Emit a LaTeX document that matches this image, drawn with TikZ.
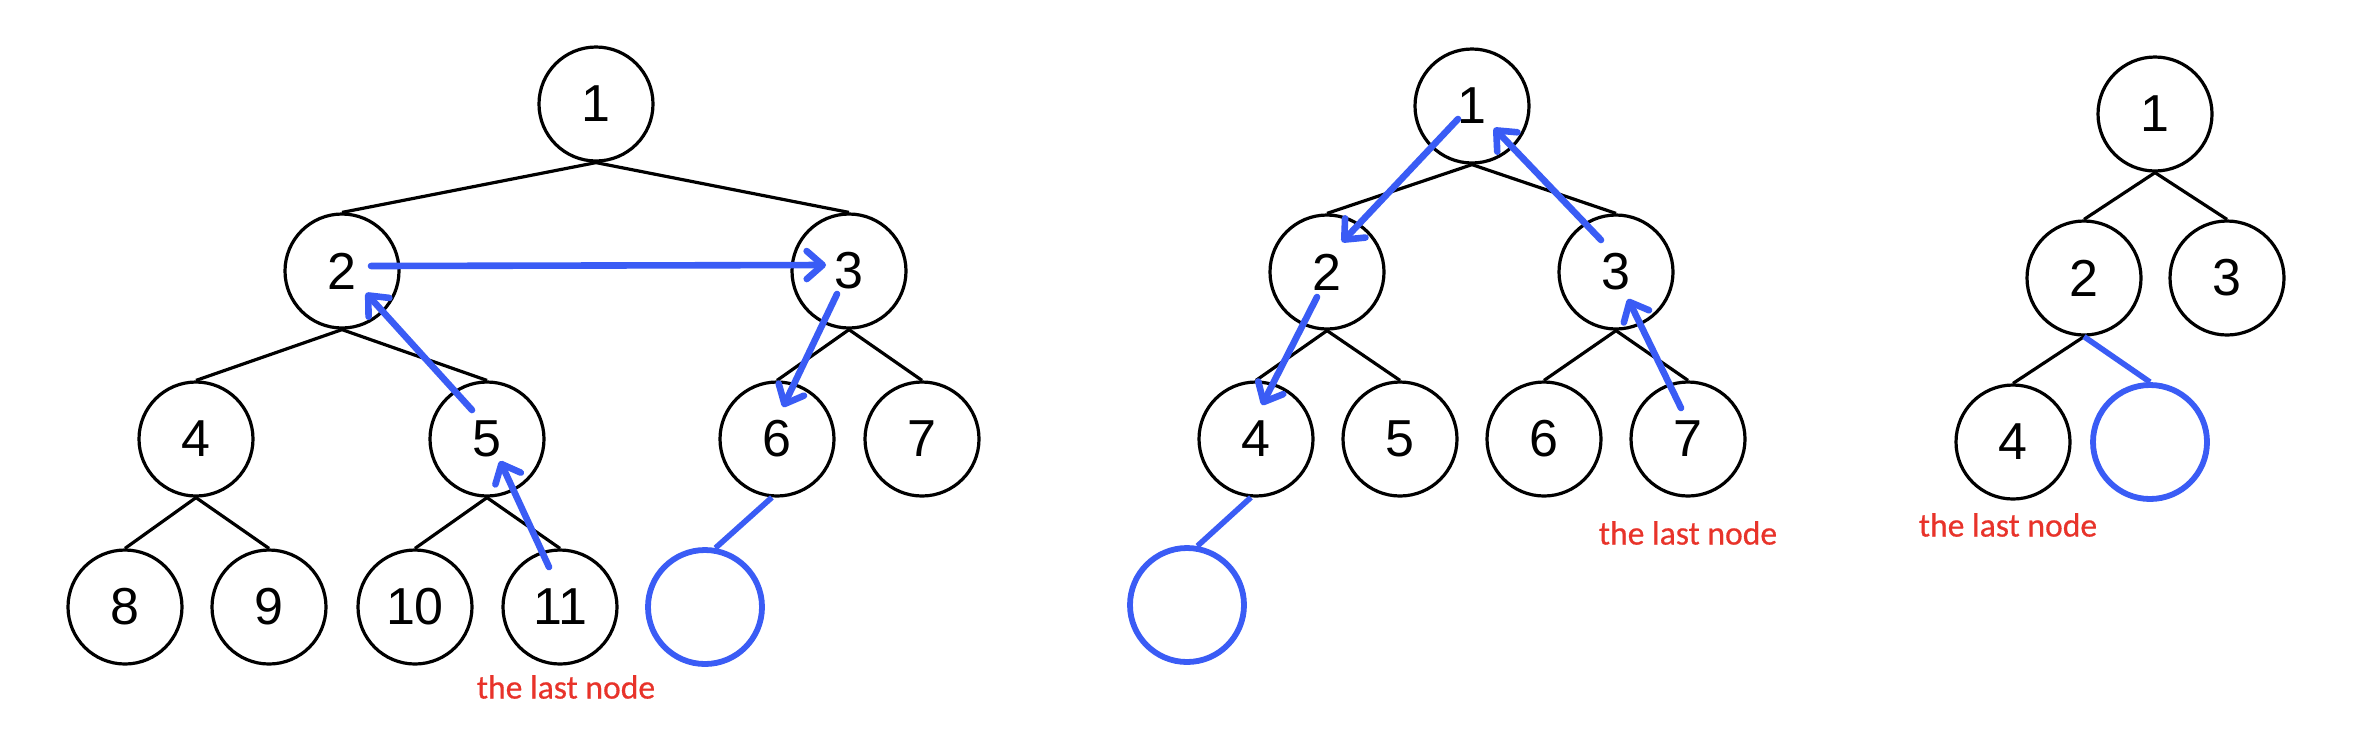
\documentclass[tikz,border=0pt]{standalone}
\usepackage{fontspec}
\setmainfont{Liberation Sans}
\newfontfamily\lastfont[FakeBold=0.5]{Carlito}
\usetikzlibrary{arrows.meta}
\definecolor{hblue}{RGB}{58,92,245}
\definecolor{hred}{RGB}{232,51,42}
\begin{document}
\begin{tikzpicture}[x=0.5pt,y=-0.5pt,
  hnode/.style={circle,draw=black,line width=1.6pt,minimum size=57pt,inner sep=0pt,font=\fontsize{26}{28}\selectfont},
  emptynode/.style={circle,draw=hblue,line width=2.9pt,minimum size=57pt,inner sep=0pt},
  treeedge/.style={draw=black,line width=1.6pt},
  newedge/.style={draw=hblue,line width=2.8pt},
  move/.style={draw=hblue,line width=3.3pt,line cap=round,-{Straight Barb[length=8pt,width=14pt,line cap=round,line join=round]}},
  lastlabel/.style={text=hred,font=\lastfont\fontsize{16.8}{18}\selectfont,inner sep=0pt}]
\useasboundingbox (0,0) rectangle (2360,746);
\fill[white] (0,0) rectangle (2360,746);

% ---------- left tree ----------
\node[hnode] (L1) at (596,104) {1};
\node[hnode] (L2) at (342,271) {2};
\node[hnode] (L3) at (849,271) {3};
\node[hnode] (L4) at (196,439) {4};
\node[hnode] (L5) at (487,439) {5};
\node[hnode] (L6) at (777,439) {6};
\node[hnode] (L7) at (922,439) {7};
\node[hnode] (L8) at (125,607) {8};
\node[hnode] (L9) at (269,607) {9};
\node[hnode] (L10) at (415,607) {10};
\node[hnode] (L11) at (560,607) {11};
\node[emptynode] (LB) at (705,607) {};
\node[lastlabel] (Llast) at (566,687) {the last node};

\draw[treeedge] (L1.south) -- (L2.north);
\draw[treeedge] (L1.south) -- (L3.north);
\draw[treeedge] (L2.south) -- (L4.north);
\draw[treeedge] (L2.south) -- (L5.north);
\draw[treeedge] (L3.south) -- (L6.north);
\draw[treeedge] (L3.south) -- (L7.north);
\draw[treeedge] (L4.south) -- (L8.north);
\draw[treeedge] (L4.south) -- (L9.north);
\draw[treeedge] (L5.south) -- (L10.north);
\draw[treeedge] (L5.south) -- (L11.north);
\draw[newedge] (L6.265) -- (LB.80);

\draw[move] ([shift={(29,-5)}]L2.center) -- ([shift={(-23,-6)}]L3.center);
\draw[move] ([shift={(-15,-29)}]L5.center) -- ([shift={(24,22)}]L2.center);
\draw[move] ([shift={(-11,-40)}]L11.center) -- ([shift={(13,22)}]L5.center);
\draw[move] ([shift={(-12,23)}]L3.center) -- ([shift={(6,-32)}]L6.center);

% ---------- middle tree ----------
\node[hnode] (M1) at (1472,106) {1};
\node[hnode] (M2) at (1327,272) {2};
\node[hnode] (M3) at (1616,272) {3};
\node[hnode] (M4) at (1256,439) {4};
\node[hnode] (M5) at (1400,439) {5};
\node[hnode] (M6) at (1544,439) {6};
\node[hnode] (M7) at (1688,439) {7};
\node[emptynode] (MB) at (1187,605) {};
\node[lastlabel] (Mlast) at (1688,533) {the last node};

\draw[treeedge] (M1.south) -- (M2.north);
\draw[treeedge] (M1.south) -- (M3.north);
\draw[treeedge] (M2.south) -- (M4.north);
\draw[treeedge] (M2.south) -- (M5.north);
\draw[treeedge] (M3.south) -- (M6.north);
\draw[treeedge] (M3.south) -- (M7.north);
\draw[newedge] (M4.265) -- (MB.80);

\draw[move] ([shift={(-14,13)}]M1.center) -- ([shift={(15,-30)}]M2.center);
\draw[move] ([shift={(-15,-32)}]M3.center) -- ([shift={(22,22)}]M1.center);
\draw[move] ([shift={(-10,25)}]M2.center) -- ([shift={(6,-34)}]M4.center);
\draw[move] ([shift={(-7,-31)}]M7.center) -- ([shift={(12,27)}]M3.center);

% ---------- right tree ----------
\node[hnode] (R1) at (2155,114) {1};
\node[hnode] (R2) at (2084,278) {2};
\node[hnode] (R3) at (2227,278) {3};
\node[hnode] (R4) at (2013,442) {4};
\node[emptynode] (RB) at (2150,442) {};
\node[lastlabel] (Rlast) at (2008,525) {the last node};

\draw[treeedge] (R1.south) -- (R2.north);
\draw[treeedge] (R1.south) -- (R3.north);
\draw[treeedge] (R2.south) -- (R4.north);
\draw[newedge] (R2.south) -- (RB.north);
\end{tikzpicture}
\end{document}
